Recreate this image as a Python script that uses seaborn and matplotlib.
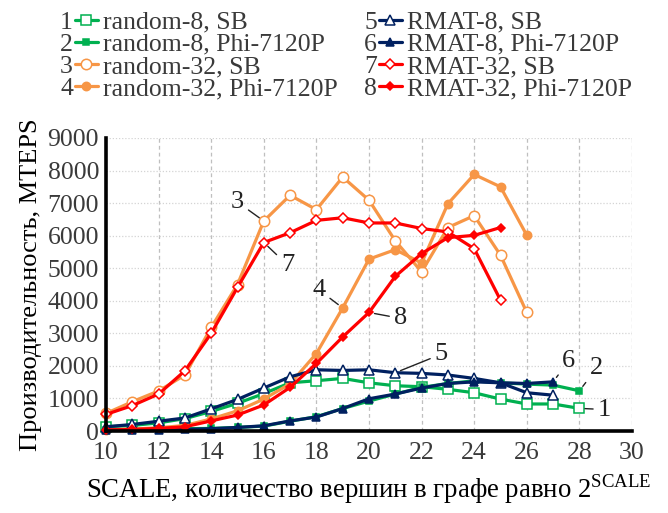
import matplotlib
matplotlib.use("Agg")
import matplotlib.pyplot as plt
import seaborn as sns
import numpy as np
import pandas as pd

# ---------------- data ----------------
scale = list(range(10, 29))
s1_random8_sb = [130, 170, 250, 380, 600, 850, 1150, 1480, 1545, 1615, 1480, 1390, 1360, 1280, 1175, 980, 830, 830, 695]
s2_random8_phi = [30, 40, 50, 70, 80, 110, 150, 300, 440, 690, 920, 1135, 1340, 1460, 1540, 1480, 1440, 1410, 1235]
s3_random32_sb = [540, 900, 1230, 1720, 3180, 4500, 6450, 7240, 6800, 7800, 7090, 5840, 4890, 6250, 6615, 5400, 3640]
s4_random32_phi = [40, 60, 100, 170, 370, 620, 980, 1450, 2380, 3780, 5280, 5570, 5160, 6980, 7880, 7500, 6010]
s5_rmat8_sb = [130, 200, 300, 400, 680, 970, 1320, 1665, 1880, 1860, 1880, 1790, 1770, 1720, 1615, 1480, 1175, 1100]
s6_rmat8_phi = [20, 30, 40, 50, 70, 110, 160, 310, 430, 690, 990, 1135, 1320, 1460, 1510, 1480, 1460, 1510]
s7_rmat32_sb = [510, 780, 1135, 1850, 3000, 4410, 5790, 6090, 6470, 6550, 6390, 6390, 6220, 6115, 5600, 4020]
s8_rmat32_phi = [30, 50, 80, 130, 310, 490, 800, 1340, 2075, 2890, 3640, 4750, 5450, 5940, 6010, 6250]

labels = ["random-8, SB", "random-8, Phi-7120P", "random-32, SB", "random-32, Phi-7120P",
          "RMAT-8, SB", "RMAT-8, Phi-7120P", "RMAT-32, SB", "RMAT-32, Phi-7120P"]
series = [s1_random8_sb, s2_random8_phi, s3_random32_sb, s4_random32_phi,
          s5_rmat8_sb, s6_rmat8_phi, s7_rmat32_sb, s8_rmat32_phi]

x_ticks = list(range(10, 31, 2))
y_ticks = list(range(0, 9001, 1000))

# ---------------- style ----------------
sns.set_theme(style="white")
plt.rcParams["font.family"] = ["Liberation Serif", "DejaVu Serif"]
plt.rcParams["mathtext.fontset"] = "custom"
plt.rcParams["mathtext.rm"] = "Liberation Serif"

GREEN = "#00B050"
NAVY = "#002060"
ORANGE = "#F79646"
RED = "#FF0000"
TXT = "#3A3A3A"

styles = [
    dict(color=GREEN, marker="s", mfc="white", mec=GREEN, ms=7),
    dict(color=GREEN, marker="s", mfc=GREEN, mec=GREEN, ms=5),
    dict(color=ORANGE, marker="o", mfc="white", mec=ORANGE, ms=7.5),
    dict(color=ORANGE, marker="o", mfc=ORANGE, mec=ORANGE, ms=6),
    dict(color=NAVY, marker="^", mfc="white", mec=NAVY, ms=7.5),
    dict(color=NAVY, marker="^", mfc=NAVY, mec=NAVY, ms=6),
    dict(color=RED, marker="D", mfc="white", mec=RED, ms=5.5),
    dict(color=RED, marker="D", mfc=RED, mec=RED, ms=4.5),
]

W, H = 668, 513
fig = plt.figure(figsize=(W / 100, H / 100), dpi=100)
ax = fig.add_axes([106 / W, 1 - 431 / H, (632 - 106) / W, (431 - 138) / H])

handles = []
for vals, lab, st in zip(series, labels, styles):
    xs = scale[:len(vals)]
    df = pd.DataFrame({"x": xs, "y": vals})
    n_before = len(ax.lines)
    sns.lineplot(data=df, x="x", y="y", ax=ax, color=st["color"], linewidth=2.3,
                 marker=st["marker"], markersize=st["ms"], markerfacecolor=st["mfc"],
                 markeredgecolor=st["mec"], markeredgewidth=1.1, clip_on=False, legend=False)
    handles.append(ax.lines[n_before])

ax.set_xlim(10, 30)
ax.set_ylim(0, 9000)
ax.set_xticks(x_ticks)
ax.set_yticks(y_ticks)
ax.xaxis.grid(True, linestyle=(0, (3, 2.5)), color="#BFBFBF", linewidth=0.9)
ax.yaxis.grid(True, linestyle=(0, (1, 1.5)), color="#D4D4D4", linewidth=0.9)
ax.set_axisbelow(True)
for sp in ["top", "right"]:
    ax.spines[sp].set_visible(False)
for sp in ["left", "bottom"]:
    ax.spines[sp].set_color("black")
    ax.spines[sp].set_linewidth(2.6)
ax.tick_params(axis="both", length=0)
ax.tick_params(axis="x", labelsize=18.5, pad=8, colors=TXT)
ax.tick_params(axis="y", labelsize=18.5, pad=5, colors=TXT)
ax.set_xlabel(r"SCALE, количество вершин в графе равно 2$^{\mathrm{SCALE}}$", fontsize=19.3, color="black", labelpad=6)
ax.set_ylabel("Производительность, MTEPS", fontsize=19, color="black", labelpad=4)

# annotations
ann_specs = [
    ("3", 2, 16, (15.0, 7030)),
    ("7", 6, 16, (16.9, 5100)),
    ("4", 3, 19, (18.1, 4330)),
    ("8", 7, 20, (21.2, 3460)),
    ("5", 4, 21, (22.75, 2360)),
    ("6", 5, 27, (27.6, 2160)),
    ("2", 1, 28, (28.65, 1920)),
    ("1", 0, 28, (28.95, 660)),
]
for txt, si, px, (tx, ty) in ann_specs:
    yv = series[si][scale.index(px)]
    ax.annotate(txt, xy=(px, yv), xytext=(tx, ty), textcoords="data",
                fontsize=19, color="#222222", ha="center", va="center",
                arrowprops=dict(arrowstyle="-", color="#222222", lw=1.0,
                                shrinkA=1, shrinkB=4))

# legend (two columns)
leg_kw = dict(frameon=False, fontsize=18.5, handlelength=0.9, handletextpad=0.2,
              labelspacing=-0.03, borderpad=0, borderaxespad=0, labelcolor=TXT)
leg1 = fig.legend(handles[:4], labels[:4], loc="upper left",
                  bbox_to_anchor=(75 / W, 1 - 5 / H), **leg_kw)
leg2 = fig.legend(handles[4:], labels[4:], loc="upper left",
                  bbox_to_anchor=(379 / W, 1 - 5 / H), **leg_kw)

# align legend to target text positions
fig.canvas.draw()
rend = fig.canvas.get_renderer()
targets = [(leg1, 103, 22.6), (leg2, 407, 22.6)]
for leg, tx_left, ty_center in targets:
    bb = leg.get_texts()[0].get_window_extent(rend)
    dx = tx_left - bb.x0
    dy = ty_center - (H - (bb.y0 + bb.y1) / 2)
    anchor = leg.get_bbox_to_anchor().transformed(fig.transFigure.inverted())
    leg.set_bbox_to_anchor((anchor.x0 + dx / W, anchor.y1 - dy / H), transform=fig.transFigure)
fig.canvas.draw()
for leg, num_right, first in [(leg1, 73, 1), (leg2, 377, 5)]:
    for i, t in enumerate(leg.get_texts()):
        bb = t.get_window_extent(rend)
        cy = (bb.y0 + bb.y1) / 2
        fig.text(num_right / W, cy / H, str(first + i), fontsize=18.5, color=TXT,
                 ha="right", va="center")

fig.savefig("out.png", dpi=100)
